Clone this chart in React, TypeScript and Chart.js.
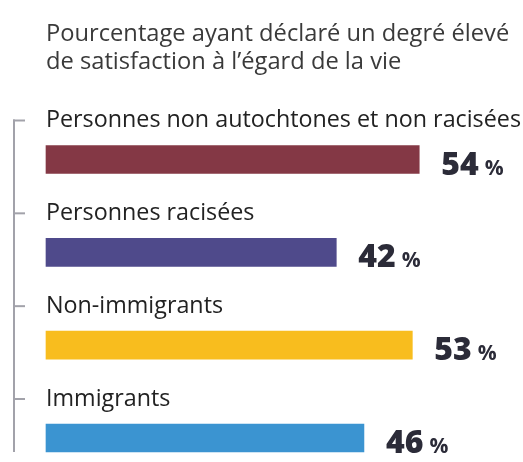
import React, { useEffect, useRef } from "react";
import { Chart, registerables } from "chart.js";

Chart.register(...registerables);

const titleLines = [
  "Pourcentage ayant déclaré un degré élevé",
  "de satisfaction à l’égard de la vie",
];
const categories = [
  "Personnes non autochtones et non racisées",
  "Personnes racisées",
  "Non-immigrants",
  "Immigrants",
];
const values = [54, 42, 53, 46];
const barColors = ["#843845", "#4f4a8b", "#f8bd1e", "#3b94d1"];
const unitLabel = "%";

const FONT = "'Open Sans', Lato, sans-serif";

const labelsPlugin = {
  id: "customLabels",
  afterDatasetsDraw(chart: any) {
    const { ctx, chartArea, scales } = chart;
    const xS = scales.x;
    const yS = scales.y;
    const meta = chart.getDatasetMeta(0);
    ctx.save();
    // axis line and ticks
    const axisX = 14;
    const firstTickY = yS.getPixelForValue(0) - 39;
    const lastBar = meta.data[meta.data.length - 1];
    const bottomY = lastBar.y + lastBar.height / 2;
    ctx.strokeStyle = "#a2a2aa";
    ctx.lineWidth = 2;
    ctx.beginPath();
    ctx.moveTo(axisX, firstTickY - 1);
    ctx.lineTo(axisX, bottomY);
    ctx.stroke();
    categories.forEach((_, i) => {
      const ty = yS.getPixelForValue(i) - 39;
      ctx.beginPath();
      ctx.moveTo(axisX - 1, ty);
      ctx.lineTo(axisX + 11, ty);
      ctx.stroke();
    });
    // category labels
    ctx.fillStyle = "#222222";
    ctx.font = `23.3px ${FONT}`;
    ctx.textBaseline = "middle";
    ctx.textAlign = "left";
    categories.forEach((c, i) => {
      ctx.fillText(c, chartArea.left, yS.getPixelForValue(i) - 39);
    });
    // value labels
    ctx.fillStyle = "#2b2b38";
    ctx.textBaseline = "alphabetic";
    meta.data.forEach((bar: any, i: number) => {
      const x = xS.getPixelForValue(values[i]) + 22;
      const y = bar.y + bar.height / 2 + 1;
      ctx.font = `800 32px ${FONT}`;
      const s = String(values[i]);
      ctx.fillText(s, x, y);
      const w = ctx.measureText(s).width;
      ctx.font = `700 21px ${FONT}`;
      ctx.fillText(unitLabel, x + w + 6, y);
    });
    ctx.restore();
  },
};

export default function App() {
  const ref = useRef<HTMLCanvasElement | null>(null);
  useEffect(() => {
    if (!ref.current) return;
    const chart = new Chart(ref.current, {
      type: "bar",
      data: {
        labels: categories,
        datasets: [
          {
            data: values,
            backgroundColor: barColors,
            barThickness: 28,
            borderWidth: 0,
            clip: false as any,
          },
        ],
      },
      options: {
        indexAxis: "y",
        animation: false,
        responsive: true,
        maintainAspectRatio: false,
        layout: { padding: { left: 46, right: 7, top: 0, bottom: 24 } },
        scales: {
          x: { display: false, min: 0, max: 68 },
          y: { display: false, offset: false },
        },
        plugins: {
          legend: { display: false },
          tooltip: { enabled: false },
          title: {
            display: true,
            text: titleLines,
            align: "start",
            color: "#3a3a3a",
            font: { family: FONT, size: 23.7, weight: "normal", lineHeight: 28 / 23.7 },
            padding: { top: 20, bottom: 83.5 },
          },
        },
      },
      plugins: [labelsPlugin],
    });
    return () => chart.destroy();
  }, []);
  return (
    <div style={{ position: "absolute", left: 0, top: 0, width: 523, height: 462 }}>
      <canvas ref={ref} />
    </div>
  );
}
